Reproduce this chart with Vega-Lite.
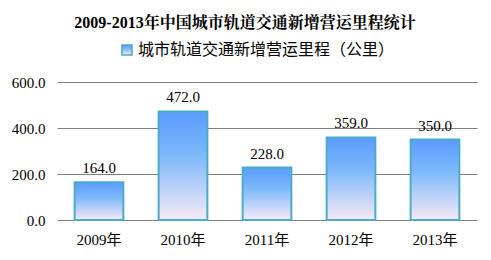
{
  "$schema": "https://vega.github.io/schema/vega-lite/v6.json",
  "width": 420,
  "height": 138,
  "autosize": {"type": "none"},
  "padding": {"left": 57, "top": 82, "right": 14, "bottom": 40},
  "background": "white",
  "config": {"view": {"stroke": null}},
  "title": {
    "text": "2009-2013年中国城市轨道交通新增营运里程统计",
    "font": "Liberation Serif, Noto Serif CJK SC, Noto Sans CJK SC",
    "fontSize": 16,
    "fontWeight": "bold",
    "color": "#000000",
    "anchor": "middle",
    "offset": 11,
    "dx": -22
  },
  "data": {
    "values": [
      {"year": "2009年", "value": 164, "series": "城市轨道交通新增营运里程（公里）"},
      {"year": "2010年", "value": 472, "series": "城市轨道交通新增营运里程（公里）"},
      {"year": "2011年", "value": 228, "series": "城市轨道交通新增营运里程（公里）"},
      {"year": "2012年", "value": 359, "series": "城市轨道交通新增营运里程（公里）"},
      {"year": "2013年", "value": 350, "series": "城市轨道交通新增营运里程（公里）"}
    ]
  },
  "encoding": {
    "x": {
      "field": "year",
      "type": "nominal",
      "sort": null,
      "scale": {"paddingInner": 0.42, "paddingOuter": 0.21},
      "axis": {
        "title": null,
        "labelAngle": 0,
        "domain": false,
        "ticks": false,
        "labelPadding": 12,
        "labelFont": "Liberation Serif, Noto Sans CJK SC",
        "labelFontSize": 15,
        "labelColor": "#000000"
      }
    },
    "y": {
      "field": "value",
      "type": "quantitative",
      "scale": {"domain": [0, 600]},
      "axis": {
        "title": null,
        "values": [0, 200, 400, 600],
        "format": ".1f",
        "domain": false,
        "ticks": false,
        "labelPadding": 12,
        "labelFont": "Liberation Serif",
        "labelFontSize": 15,
        "labelColor": "#000000",
        "gridColor": "#808080",
        "gridWidth": 1
      }
    }
  },
  "layer": [
    {
      "mark": {
        "type": "bar",
        "stroke": "#4BACC6",
        "strokeWidth": 2,
        "fill": {
          "gradient": "linear",
          "x1": 0, "y1": 0, "x2": 0, "y2": 1,
          "stops": [
            {"offset": 0, "color": "#5A9BFF"},
            {"offset": 0.4, "color": "#7DB9FA"},
            {"offset": 1, "color": "#F7E9F5"}
          ]
        }
      },
      "encoding": {
        "opacity": {
          "field": "series",
          "type": "nominal",
          "scale": {"range": [1]},
          "legend": {
            "title": null,
            "orient": "none",
            "legendX": 62,
            "legendY": -40,
            "symbolType": "square",
            "symbolSize": 100,
            "symbolOpacity": 1,
            "labelFont": "Noto Sans CJK SC",
            "labelFontSize": 16,
            "labelLimit": 400,
            "labelColor": "#000000",
            "labelOffset": 3,
            "encode": {
              "symbols": {
                "update": {
                  "fill": {"value": {
                    "gradient": "linear",
                    "x1": 0, "y1": 0, "x2": 0, "y2": 1,
                    "stops": [
                      {"offset": 0, "color": "#8CC0FA"},
                      {"offset": 1, "color": "#E6EEFA"}
                    ]
                  }},
                  "stroke": {"value": "#4BACC6"},
                  "strokeWidth": {"value": 1.5},
                  "opacity": {"value": 1}
                }
              }
            }
          }
        }
      }
    },
    {
      "mark": {
        "type": "text",
        "dy": -14,
        "font": "Liberation Serif",
        "fontSize": 15,
        "color": "#000000"
      },
      "encoding": {
        "text": {"field": "value", "type": "quantitative", "format": ".1f"}
      }
    }
  ]
}
